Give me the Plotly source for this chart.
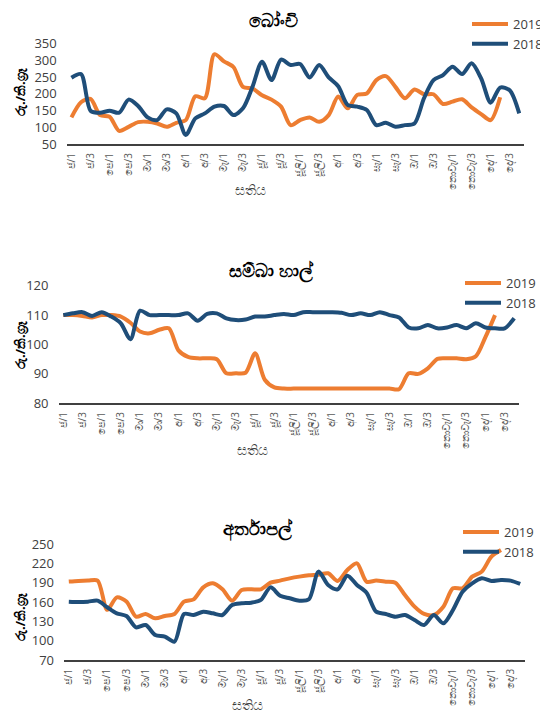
import plotly.graph_objects as go

# The page body adds an 8px margin, so the figure is 8px smaller than the window
OFF = 8
W, H = 548 - OFF, 713 - OFF


def fx(px):
    return (px - OFF) / W


def fy(py):
    return 1 - (py - OFF) / H


weeks = list(range(48))
tick_labels = ["ජ/1", "ජ/3", "පෙ/1", "පෙ/3", "මා/1", "මා/3", "අ/1", "අ/3",
               "මැ/1", "මැ/3", "ජූ/1", "ජූ/3", "ජූලි/1", "ජූලි/3", "අ/1", "අ/3",
               "සැ/1", "සැ/3", "ඔ/1", "ඔ/3", "නොවැ/1", "නොවැ/3", "දෙ/1", "දෙ/3"]
tick_weeks = weeks[::2]

beans_2019 = [130, 175, 185, 137, 132, 90, 102, 116, 117, 112, 102, 114, 122, 193, 187, 318,
              297, 280, 221, 216, 196, 183, 162, 107, 122, 130, 117, 137, 192, 157, 197, 201,
              241, 253, 221, 187, 213, 199, 199, 170, 177, 184, 160, 140, 122, 190]
beans_2018 = [248, 259, 150, 144, 150, 144, 183, 164, 130, 122, 154, 142, 78, 127, 142, 162,
              164, 137, 157, 221, 296, 241, 302, 286, 289, 249, 286, 249, 223, 167, 162, 152,
              107, 114, 102, 107, 112, 187, 241, 256, 281, 259, 291, 246, 174, 219, 211, 142]

rice_2019 = [110, 110, 109.7, 109.2, 110, 110, 109.5, 107.4, 104.4, 103.8, 105, 105.5, 98, 95.8,
             95.3, 95.3, 95, 90.2, 90.2, 90.4, 97, 88, 85.4, 85, 85, 85, 85, 85, 85, 85, 85, 85,
             85, 85, 85, 84.8, 90.2, 90, 91.9, 95.1, 95.3, 95.3, 95, 96, 102.5, 110]
rice_2018 = [110, 110.6, 111, 109.7, 111, 109.5, 107.2, 101.8, 111.5, 110, 110, 110, 110, 110.6,
             108.1, 110.4, 110.6, 108.9, 108.3, 108.5, 109.5, 109.5, 110, 110.4, 110, 111, 111,
             111, 111, 110.8, 110, 110.6, 110, 111, 110, 109.2, 105.8, 105.5, 106.6, 105.5,
             105.8, 106.6, 105.5, 107.2, 105.8, 105.5, 105.5, 108.9]

potato_2019 = [192, 193, 193.5, 193.5, 148, 167.5, 161, 137.4, 141.6, 134.8, 138.5, 141.6, 160.8,
               164.4, 183, 189.3, 180, 162.3, 178.9, 180, 180, 190.3, 193.5, 197, 199.7, 201.8,
               202.8, 204.9, 193, 210, 220.4, 191.9, 193.5, 191.9, 190.3, 171, 153, 141.6, 140,
               153, 181.5, 181.5, 199.7, 207.5, 230.8, 241]
potato_2018 = [160.8, 160.3, 160.8, 162.3, 152, 142.6, 138.5, 120.8, 124.5, 108.9, 106.3, 98.5,
               141.6, 140, 145.2, 142.6, 140, 155.6, 158.2, 159.2, 163.4, 183, 170, 166, 162.3,
               164.4, 207.5, 186.7, 180, 201.2, 186.7, 174.8, 145.2, 141.6, 137.4, 140, 132.2,
               124.5, 140, 127.1, 147.8, 176.3, 189.3, 197.1, 193, 194.5, 193.5, 188.3]

titles = ["බෝංචි", "සම්බා හාල්", "අර්තාපල්"]
y_title = "රු./කි.ග්‍රෑ"
x_title = "සතිය"
series_names = ["2019", "2018"]

ORANGE = "#ED7D31"
BLUE = "#1F4E79"
FONT = "Open Sans, Noto Sans, DejaVu Sans, sans-serif"

panels = [
    dict(d19=beans_2019, d18=beans_2018, yr=[50, 350], dt=50,
         xpx=(66.7, 524), ypx=(43.5, 144.3), title=(273, 20), ytl=92, xtl=(250, 190),
         leg=(467, 9)),
    dict(d19=rice_2019, d18=rice_2018, yr=[80, 120], dt=10,
         xpx=(58.5, 519), ypx=(285.7, 403.3), title=(271, 270), ytl=345, xtl=(252, 449),
         leg=(460, 268)),
    dict(d19=potato_2019, d18=potato_2018, yr=[70, 250], dt=30,
         xpx=(64, 525), ypx=(544.3, 660), title=(258, 528), ytl=617, xtl=(247, 704),
         leg=(458, 517)),
]

fig = go.Figure()
annotations = []
for i, p in enumerate(panels, start=1):
    sfx = "" if i == 1 else str(i)
    leg = "legend" if i == 1 else f"legend{i}"
    for name, data, col in [(series_names[0], p["d19"], ORANGE), (series_names[1], p["d18"], BLUE)]:
        fig.add_trace(go.Scatter(
            x=weeks[:len(data)], y=data, name=name, mode="lines",
            line=dict(color=col, width=4, shape="spline", smoothing=0.8),
            xaxis="x" + sfx, yaxis="y" + sfx, legend=leg,
        ))
    x0, x1 = p["xpx"]
    ytop, ybot = p["ypx"]
    fig.update_layout(**{
        "xaxis" + sfx: dict(
            domain=[fx(x0), fx(x1)], range=[-0.5, 47.5], anchor="y" + sfx,
            tickmode="array", tickvals=tick_weeks, ticktext=tick_labels, tickangle=-90,
            tickfont=dict(size=10, color="#595959", family=FONT), ticklabelstandoff=3,
            showline=True, linecolor="#404040", linewidth=1.5, showgrid=False,
            zeroline=False, ticks="", fixedrange=True,
        ),
        "yaxis" + sfx: dict(
            domain=[fy(ybot), fy(ytop)], range=p["yr"], anchor="x" + sfx,
            dtick=p["dt"], tick0=p["yr"][0], showgrid=False, zeroline=False,
            showline=False, ticks="", ticklabelstandoff=9,
            tickfont=dict(size=13, color="#404040", family=FONT),
        ),
        leg: dict(
            x=fx(p["leg"][0]), y=fy(p["leg"][1]), xanchor="left", yanchor="top",
            bgcolor="rgba(0,0,0,0)", font=dict(size=13, color="#404040", family=FONT),
            itemwidth=36, tracegroupgap=0,
        ),
    })
    annotations.append(dict(text="<b>" + titles[i - 1] + "</b>", x=fx(p["title"][0]),
                            y=fy(p["title"][1]), xref="paper", yref="paper",
                            xanchor="center", yanchor="middle",
                            showarrow=False, font=dict(size=18, color="#000000", family=FONT)))
    annotations.append(dict(text="<b>" + y_title + "</b>", x=fx(9), y=fy(p["ytl"]),
                            xref="paper", yref="paper", textangle=-90, showarrow=False,
                            xanchor="left", yanchor="middle",
                            font=dict(size=13, color="#000000", family=FONT)))
    annotations.append(dict(text=x_title, x=fx(p["xtl"][0]), y=fy(p["xtl"][1]),
                            xref="paper", yref="paper", showarrow=False,
                            xanchor="center", yanchor="middle",
                            font=dict(size=14, color="#404040", family=FONT)))

fig.update_layout(
    width=W, height=H, margin=dict(l=0, r=0, t=0, b=0, autoexpand=False),
    paper_bgcolor="white", plot_bgcolor="white",
    showlegend=True, annotations=annotations,
    font=dict(family=FONT),
)

fig.write_html("out.html")
